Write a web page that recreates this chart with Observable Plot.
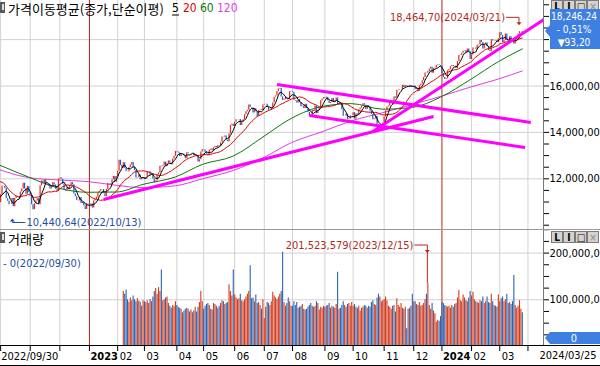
<!DOCTYPE html>
<html><head><meta charset="utf-8">
<script src="https://cdn.jsdelivr.net/npm/d3@7"></script>
<script src="https://cdn.jsdelivr.net/npm/@observablehq/plot@0.6"></script>
<style>
html,body{margin:0;padding:0;background:#fff;}
#root{position:relative;width:600px;height:366px;overflow:hidden;background:#fff;}
#root svg{position:absolute;left:0;}
</style></head><body><div id="root"></div>
<script>
// ---------------- DATA ----------------
const holidays = ["2022-11-24","2022-12-26","2023-01-02","2023-01-16","2023-02-20","2023-04-07","2023-05-29","2023-06-19","2023-07-04","2023-09-04","2023-11-23","2023-12-25","2024-01-01","2024-01-15","2024-02-19","2024-03-29"];
// closes of the 19 sessions before 2022-09-30 (for the 5/20 moving averages)
const priorCloses = [12270,12180,12440,12530,12740,12900,12200,12300,12080,11960,12060,11960,11770,11620,11310,11260,11250,11480,11160];
// daily closes from 2022-09-30
const close2022 = [10970,
 11310,11680,11670,11580,11140,11030,10880,10880,11150,10800,11150,11240,11210,11170,11430,11560,11810,11560,11330,11670,11410,
 11300,10880,10670,10920,11040,11140,10880,11700,11900,11790,11950,11780,11760,11680,11560,11710,11830,11730,11550,11460,11990,
 12030,11980,11760,11520,11470,11610,11550,11700,11830,11740,11340,11230,11060,11050,11190,10940,10990,10830,10680,10940,10940];
const close2023 = [
 10860,10910,10740,11040,11110,11210,11400,11460,11540,11540,11360,11230,11540,11800,11780,11740,11960,12100,11850,12100,
 12330,12800,12570,12450,12690,12450,12310,12300,12480,12590,12700,12480,12360,12030,12060,12160,11960,12040,12040,
 11970,12060,12290,12300,12150,12210,11990,11830,11910,12170,12250,12540,12520,12560,12720,12520,12660,12770,12680,12610,12850,12970,13180,
 13150,13110,12960,13060,13070,12990,12870,13120,13080,13080,13090,13100,12990,13010,12970,12720,12820,13160,13250,
 13240,13140,13060,12990,13240,13280,13200,13340,13390,13340,13420,13400,13550,13800,13790,13850,13660,13600,13940,14300,14350,14250,
 14440,14550,14550,14560,14300,14460,14550,14760,14890,14960,15180,15080,15050,14840,15020,14890,14690,14940,14970,14940,15180,
 15200,15210,15090,14950,14970,15050,15270,15520,15570,15760,15870,15890,15530,15380,15410,15520,15470,15420,15750,15760,
 15730,15390,15350,15270,15410,15280,15110,15140,15030,15210,15030,14860,14700,14690,14940,14900,15140,14810,14940,15040,15360,15440,15500,
 15470,15520,15360,15250,15290,15460,15290,15360,15480,15200,15230,15200,14980,14700,14700,14780,14550,14580,14710,14720,
 14850,14570,14790,14740,14980,15050,15130,15230,15170,14990,15150,15100,14910,14770,14540,14580,14700,14330,14100,14180,14330,14410,
 14660,14920,15100,15140,15300,15310,15190,15530,15480,15810,15830,15850,15850,16030,15940,16010,15980,15970,16020,15990,15950,
 15990,15840,15890,15770,16010,16080,16230,16370,16560,16550,16620,16730,16810,16550,16750,16780,16880,16900,16880,16830];
const close2024 = [
 16540,16370,16280,16310,16660,16710,16830,16880,16830,16850,16750,17060,17310,17320,17410,17500,17520,17420,17600,17480,17140,
 17340,17640,17640,17580,17760,17780,17960,17880,17600,17790,17850,17690,17530,17480,17990,17940,17930,17950,17870,18040,
 18300,18180,17870,17960,18240,17960,17860,18120,17990,17940,17810,18020,18070,18240,18340,18340,18246];
// daily volume (millions) from 2023-02-07
const volumeStart = "2023-02-07";
const volume2023 = [
 118,112,121,100,95,104,98,108,100,96,102,97,95,86,98,
 96,94,98,92,100,96,106,118,124,112,126,118,164,98,100,104,106,92,86,82,88,85,96,
 88,84,82,80,72,76,80,82,80,74,78,72,76,84,74,84,94,118,96,
 80,86,90,92,88,80,78,92,90,86,82,86,92,98,96,90,92,94,132,118,108,164,
 110,104,100,102,112,98,96,100,106,112,118,173,102,104,96,110,92,94,88,80,100,
 60,84,94,92,88,96,116,108,104,100,106,112,118,202,94,86,92,104,96,86,
 86,96,88,94,82,84,86,90,80,78,80,84,88,92,86,84,86,96,92,78,84,82,86,
 84,86,88,92,82,86,84,82,90,159,80,82,88,96,88,84,90,92,86,94,
 86,90,84,82,86,76,82,84,88,86,82,86,84,94,98,90,88,104,112,106,96,98,
 100,106,98,86,84,80,86,88,74,102,88,84,92,82,80,84,38,80,82,86,112,
 96,96,90,88,94,86,88,92,100,112,135,88,80,92,76,70,52,56,54,64];
const volume2024 = [
 94,92,88,86,84,86,82,88,84,90,92,104,120,98,96,110,104,98,96,104,118,
 108,116,100,96,94,92,98,96,106,92,96,106,94,92,112,96,88,86,84,110,
 96,102,106,96,100,112,92,94,90,96,152,88,82,86,98,80,72];
// 60- and 120-day moving averages read at month ends
const maDates = ["2022-09-30","2022-10-31","2022-11-30","2022-12-30","2023-01-31","2023-02-28","2023-03-31","2023-04-28","2023-05-31","2023-06-30","2023-07-31","2023-08-31","2023-09-29","2023-10-31","2023-11-30","2023-12-29","2024-01-31","2024-02-29","2024-03-25"];
const ma60Values = [12600,12070,11600,11420,11430,11760,12080,12620,12980,13800,14600,15130,15240,15000,15080,15520,16270,17050,17600];
const ma120Values = [12400,12050,11950,11880,11720,11620,11700,12000,12360,12900,13550,14050,14500,14850,15200,15550,15950,16300,16650];
// hand-drawn trend lines (date, price)
const trendLines = [
 {d1:"2023-01-18", p1:11108, d2:"2023-12-21", p2:14685},
 {d1:"2023-10-20", p1:14040, d2:"2024-04-22", p2:19010},
 {d1:"2023-07-17", p1:16065, d2:"2024-04-03", p2:14427},
 {d1:"2023-08-17", p1:14728, d2:"2024-03-27", p2:13349}
];
const xTickLabels = [
 {date:"2022-09-30", label:"2022/09/30"},
 {date:"2023-01-03", label:"2023", bold:true},
 {date:"2023-02-01", label:"02"},{date:"2023-03-01", label:"03"},{date:"2023-04-03", label:"04"},
 {date:"2023-05-01", label:"05"},{date:"2023-06-01", label:"06"},{date:"2023-07-03", label:"07"},
 {date:"2023-08-01", label:"08"},{date:"2023-09-01", label:"09"},{date:"2023-10-02", label:"10"},
 {date:"2023-11-01", label:"11"},{date:"2023-12-01", label:"12"},
 {date:"2024-01-02", label:"2024", bold:true},
 {date:"2024-02-01", label:"02"},{date:"2024-03-01", label:"03"}
];
const priceGrid = [12000,14000,16000,18000];
const priceLabels = [12000,14000,16000];
const volumeGrid = [100,200];
const lastInfo = {price:"18,246,24", change:"- 0,51%", diff:"▼93,20", volume:"0", date:"2024/03/25"};
const maxInfo = {date:"2024-03-21", value:18464.70, label:"18,464,70(2024/03/21)"};
const minInfo = {date:"2022-10-13", value:10440.64, label:"10,440,64(2022/10/13)"};
const volMaxInfo = {date:"2023-12-15", label:"201,523,579(2023/12/15)"};
const volMinLabel = "- 0(2022/09/30)";

// ---------------- BUILD ----------------
const NUM_FONT = "'DejaVu Sans Condensed','Liberation Sans Narrow',sans-serif";
const KR_FONT = "'Noto Sans CJK KR','Noto Sans',sans-serif";
const FS = 11;
const UP = "#e42a1c", DOWN = "#1f5fc8", VUP = "#d23c1e", VDOWN = "#2a64b4";
const GRID = "#d2d2d2", YEAR = "#b8251c";

const dates = [];
{
  const hol = new Set(holidays);
  let t = Date.UTC(2022, 8, 30);
  while (dates.length < 400) {
    const d = new Date(t), wd = d.getUTCDay(), s = d.toISOString().slice(0, 10);
    if (wd !== 0 && wd !== 6 && !hol.has(s)) dates.push(s);
    t += 864e5;
  }
}
const iOf = s => dates.indexOf(s);
const closes = close2022.concat(close2023, close2024);
const allCloses = priorCloses.concat(closes);
const P = priorCloses.length;
const candles = closes.map((c, i) => ({i, open: allCloses[P + i - 1], close: c, up: c >= allCloses[P + i - 1]}));
const maN = n => closes.map((c, i) => ({i, v: d3.mean(allCloses.slice(Math.max(0, P + i - n + 1), P + i + 1))}));
const ma5 = maN(5), ma20 = maN(20);
const ma60 = maDates.map((d, k) => ({i: iOf(d), v: ma60Values[k]}));
const ma120 = maDates.map((d, k) => ({i: iOf(d), v: ma120Values[k]}));
const v0 = iOf(volumeStart);
const vols = volume2023.concat(volume2024).map((v, k) => ({i: v0 + k, v, up: candles[v0 + k].up}));

const xDomain = [0.922, 386.02];
const monthStarts = [], yearStarts = [];
dates.forEach((d, i) => {
  if (i > 0 && i <= 386 && d.slice(0, 7) !== dates[i - 1].slice(0, 7)) {
    if (d.slice(5, 7) === "01") yearStarts.push(i); else monthStarts.push(i);
  }
});
const style = {fontFamily: NUM_FONT, fontSize: FS + "px", background: "transparent", overflow: "visible", color: "#000"};
const fmtPrice = d => d3.format(",.2f")(d).replace(".", ",");

const priceChart = Plot.plot({
  width: 600, height: 229, marginTop: 0, marginBottom: 0, marginLeft: 0, marginRight: 57, style,
  x: {domain: xDomain, axis: null},
  y: {domain: [9815, 19685], axis: null},
  marks: [
    Plot.ruleX(monthStarts, {stroke: GRID}),
    Plot.ruleY(priceGrid, {stroke: GRID}),
    Plot.ruleX(yearStarts, {stroke: YEAR}),
    Plot.line(ma120, {x: "i", y: "v", stroke: "#e23ce2", strokeWidth: 1, curve: "monotone-x"}),
    Plot.line(ma60, {x: "i", y: "v", stroke: "#0b7a0b", strokeWidth: 1, curve: "monotone-x"}),
    Plot.ruleX(candles, {x: "i", y1: "open", y2: "close", stroke: d => d.up ? UP : DOWN, strokeWidth: 1.2}),
    Plot.line(ma20, {x: "i", y: "v", stroke: "#d80000", strokeWidth: 1}),
    Plot.line(ma5, {x: "i", y: "v", stroke: "#000", strokeWidth: 1}),
    Plot.link(trendLines, {x1: d => iOf(d.d1), y1: "p1", x2: d => iOf(d.d2), y2: "p2", stroke: "#ff00ff", strokeWidth: 3, clip: true}),
    Plot.ruleX([xDomain[1]], {stroke: "#777"}),
    Plot.axisY({anchor: "right", ticks: d3.range(10000, 19700, 500), tickSize: 5, tickPadding: 1, label: null,
      tickFormat: d => priceLabels.includes(d) ? fmtPrice(d) : ""})
  ]
});
priceChart.style.top = "0px";

const volChart = Plot.plot({
  width: 600, height: 117, marginTop: 0, marginBottom: 0, marginLeft: 0, marginRight: 57, style,
  x: {domain: xDomain, axis: null},
  y: {domain: [0, 250.5], axis: null},
  marks: [
    Plot.ruleX(monthStarts, {stroke: GRID}),
    Plot.ruleY(volumeGrid, {stroke: GRID}),
    Plot.ruleX(yearStarts, {stroke: YEAR}),
    Plot.ruleX(vols, {x: "i", y1: 0, y2: "v", stroke: d => d.up ? VUP : VDOWN, strokeWidth: 1.1}),
    Plot.ruleX([xDomain[1]], {stroke: "#777"}),
    Plot.axisY({anchor: "right", ticks: d3.range(25, 251, 25), tickSize: 5, tickPadding: 1, label: null,
      tickFormat: d => d % 100 === 0 ? d3.format(",")(d * 1e6) : ""})
  ]
});
volChart.style.top = "229px";

const labelPos = xTickLabels.map(d => ({...d, i: iOf(d.date)}));
const axisChart = Plot.plot({
  width: 600, height: 21, marginTop: 0, marginBottom: 0, marginLeft: 0, marginRight: 57, style,
  x: {domain: xDomain, axis: null},
  y: {domain: [0, 21], range: [0, 21], axis: null},
  marks: [
    Plot.ruleX(monthStarts.concat(yearStarts), {y1: 0, y2: 6, stroke: "#000"}),
    Plot.text(labelPos.filter(d => !d.bold), {x: "i", y: 11, text: "label", textAnchor: "start", dx: 2, fill: "#000", lineAnchor: "middle"}),
    Plot.text(labelPos.filter(d => d.bold), {x: "i", y: 11, text: "label", textAnchor: "start", dx: 1, fill: "#000", fontWeight: "bold", lineAnchor: "middle"})
  ]
});
axisChart.style.top = "345px";

const root = document.getElementById("root");
root.append(priceChart, volChart, axisChart);

// ---------------- OVERLAY ----------------
const sx = v => priceChart.scale("x").apply(v);
const sy = v => priceChart.scale("y").apply(v);
const svy = v => 229 + volChart.scale("y").apply(v);
const ov = d3.create("svg").attr("width", 600).attr("height", 366).style("top", "0px");
function txt(x, y, s, o = {}) {
  return ov.append("text").attr("x", x).attr("y", y).text(s)
    .attr("font-family", o.font || NUM_FONT).attr("font-size", o.size || FS)
    .attr("fill", o.fill || "#000").attr("text-anchor", o.anchor || "start")
    .attr("dominant-baseline", "central").attr("font-weight", o.weight || "normal");
}
function line(x1, y1, x2, y2, c, w = 1) {
  ov.append("line").attr("x1", x1).attr("y1", y1).attr("x2", x2).attr("y2", y2).attr("stroke", c).attr("stroke-width", w);
}
// frame lines
line(0, 229.5, 600, 229.5, "#9a9a9a");
line(0, 345.5, 600, 345.5, "#000");
line(0, 365.5, 600, 365.5, "#000");
// panel icons + headers
[2, 232].forEach(y0 => {
  ov.append("rect").attr("x", 0).attr("y", y0).attr("width", 5).attr("height", 11).attr("fill", "#5a5a5a");
  ov.append("rect").attr("x", 2).attr("y", y0 + 2).attr("width", 2).attr("height", 6).attr("fill", "#e0e0e0");
});
txt(8, 8, "가격이동평균(종가,단순이평)", {font: KR_FONT, size: 13});
txt(172, 8, "5", {size: 12});
line(172, 15, 179, 15, "#000");
txt(183, 8, "20", {size: 12, fill: "#d80000"});
txt(200, 8, "60", {size: 12, fill: "#0b7a0b"});
txt(217, 8, "120", {size: 12, fill: "#e23ce2"});
txt(8, 238, "거래량", {font: KR_FONT, size: 13});
// panel buttons
[0, 231].forEach(y0 => {
  ["L", "I", "□", "×"].forEach((g, k) => {
    const bx = 551 + k * 12;
    ov.append("rect").attr("x", bx + 0.5).attr("y", y0 + 0.5).attr("width", 11).attr("height", 11)
      .attr("fill", "#d6d3ce").attr("stroke", "#7a7a7a");
    txt(bx + 6, y0 + 6, g, {anchor: "middle", size: 10, weight: "bold", fill: k === 3 ? "#9a9a9a" : "#000"});
  });
});
// current price box
const BOX_FONT = "'DejaVu Sans Condensed','DejaVu Sans',sans-serif";
ov.append("path").attr("d", "M550,9 H600 V49 H550 V37 L545,31 L550,25 Z").attr("fill", "#3d80e2");
txt(574, 16, lastInfo.price, {anchor: "middle", fill: "#fff", size: 10, font: BOX_FONT});
txt(574, 29, lastInfo.change, {anchor: "middle", fill: "#fff", size: 10, font: BOX_FONT});
txt(574, 42, lastInfo.diff, {anchor: "middle", fill: "#fff", size: 10, font: BOX_FONT});
// current volume box
ov.append("path").attr("d", "M550,332 H600 V344 H550 L545,338 Z").attr("fill", "#3d80e2");
txt(574, 338, lastInfo.volume, {anchor: "middle", fill: "#fff"});
txt(568, 355, lastInfo.date, {anchor: "middle"});
// max price annotation
{
  const hx = sx(iOf(maxInfo.date)), hy = sy(maxInfo.value);
  const c = "#b02a1e";
  txt(hx - 14, hy - 11, maxInfo.label, {anchor: "end", fill: c});
  line(hx - 13, hy - 11, hx, hy - 11, c);
  line(hx, hy - 11, hx, hy - 5, c);
  ov.append("path").attr("d", `M${hx - 2.5},${hy - 6} L${hx + 2.5},${hy - 6} L${hx},${hy - 3} Z`).attr("fill", c);
}
// min price annotation
{
  const lx = sx(iOf(minInfo.date)), ly = sy(minInfo.value);
  const c = "#1d4f9c";
  ov.append("path").attr("d", `M${lx + 1},${ly + 4} L${lx - 1.5},${ly + 7} L${lx + 3.5},${ly + 7} Z`).attr("fill", c);
  line(lx + 1, ly + 7, lx + 1, ly + 8, c);
  line(lx + 1, ly + 8, lx + 14, ly + 8, c);
  txt(lx + 15, ly + 8, minInfo.label, {fill: c});
}
// max volume annotation
{
  const vx = sx(iOf(volMaxInfo.date));
  const top = svy(vols.find(d => d.i === iOf(volMaxInfo.date)).v);
  const c = "#b02a1e";
  txt(vx - 14, 245, volMaxInfo.label, {anchor: "end", fill: c});
  line(vx - 13, 245, vx, 245, c);
  line(vx, 245, vx, top, c);
  ov.append("path").attr("d", `M${vx - 2.5},250 L${vx + 2.5},250 L${vx},253 Z`).attr("fill", c);
}
txt(3, 263, volMinLabel, {fill: "#1d4f9c"});
root.append(ov.node());
</script></body></html>
